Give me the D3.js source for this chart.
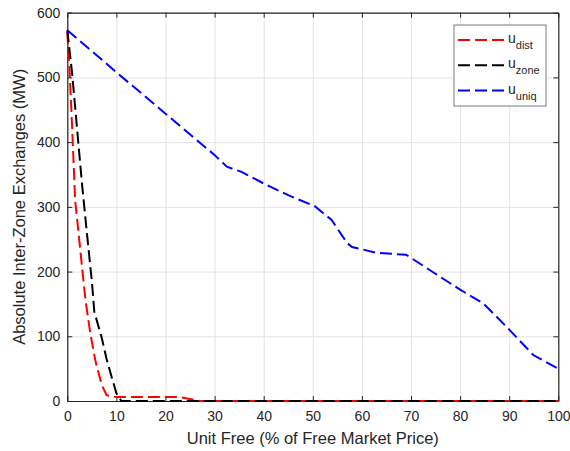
<!DOCTYPE html>
<html>
<head>
<meta charset="utf-8">
<script src="https://cdn.jsdelivr.net/npm/d3@7"></script>
<style>
  body { margin: 0; background: #fff; }
  svg { font-family: "Liberation Sans", Arial, sans-serif; }
  .grid line { stroke: #e3e3e3; stroke-width: 1; }
  .grid path { display: none; }
  .axis text { fill: #262626; font-size: 14px; }
  .axis line, .axis path { stroke: #262626; }
</style>
</head>
<body>
<div id="chart"></div>
<script>
// Values
const xTicks = [0, 10, 20, 30, 40, 50, 60, 70, 80, 90, 100];
const yTicks = [0, 100, 200, 300, 400, 500, 600];

const distX = [0, 0.5, 1, 1.6, 2.3, 3, 3.7, 4.7, 5.7, 7, 8, 10, 23, 27, 100];
const distY = [570, 505, 420, 310, 259, 207, 156, 104, 63, 25, 9, 6, 6, 0, 0];

const zoneX = [0, 1, 2, 3, 4, 5, 5.5, 7, 8, 9, 10, 11, 100];
const zoneY = [573, 505, 420, 335, 259, 185, 138, 98, 65, 38, 12, 0, 0];

const uniqX = [0, 10, 20, 30, 32.5, 35.5, 40, 45, 50.4, 53.8, 57, 58, 63, 69, 80, 84.7, 89.8, 94.9, 100];
const uniqY = [573, 508, 444, 380, 362, 354, 336, 318, 301, 280, 244, 238, 229, 226, 172, 151, 112, 71, 50];

const seriesNames = ["dist", "zone", "uniq"];
const seriesColors = ["#ff0000", "#000000", "#0000ff"];

// Set up chart dimensions
const W = 570, H = 451;
const margin = { top: 12.7, right: 11.7, bottom: 50, left: 67.3 };
const width = W - margin.left - margin.right;
const height = 401 - margin.top;

const svg = d3
  .select("#chart")
  .append("svg")
  .attr("width", W)
  .attr("height", H);

const g = svg.append("g").attr("transform", `translate(${margin.left},${margin.top})`);

const x = d3.scaleLinear().domain([0, 100]).range([0, width]);
const y = d3.scaleLinear().domain([0, 600]).range([height, 0]);

// Grid lines
g.append("g")
  .attr("class", "grid")
  .attr("transform", `translate(0,${height})`)
  .call(d3.axisBottom(x).tickValues(xTicks).tickSize(-height).tickFormat(""));
g.append("g")
  .attr("class", "grid")
  .call(d3.axisLeft(y).tickValues(yTicks).tickSize(-width).tickFormat(""));

// Axes (ticks point inward, box on)
g.append("g")
  .attr("class", "axis")
  .attr("transform", `translate(0,${height})`)
  .call(d3.axisBottom(x).tickValues(xTicks).tickSizeInner(-5).tickSizeOuter(0).tickPadding(10));
g.append("g")
  .attr("class", "axis")
  .call(d3.axisLeft(y).tickValues(yTicks).tickSizeInner(-5).tickSizeOuter(0).tickPadding(7));
g.append("g")
  .attr("class", "axis")
  .call(d3.axisTop(x).tickValues(xTicks).tickSizeInner(-5).tickSizeOuter(0).tickFormat(""));
g.append("g")
  .attr("class", "axis")
  .attr("transform", `translate(${width},0)`)
  .call(d3.axisRight(y).tickValues(yTicks).tickSizeInner(-5).tickSizeOuter(0).tickFormat(""));

g.selectAll(".axis path").attr("stroke-width", 1.2);

// Data lines
const line = d3.line().x((d) => x(d[0])).y((d) => y(d[1]));
const allSeries = [
  d3.zip(distX, distY),
  d3.zip(zoneX, zoneY),
  d3.zip(uniqX, uniqY)
];

g.selectAll(".series")
  .data(allSeries)
  .enter()
  .append("path")
  .attr("class", "series")
  .attr("d", line)
  .attr("fill", "none")
  .attr("stroke", (d, i) => seriesColors[i])
  .attr("stroke-width", 2)
  .attr("stroke-dasharray", "12,5");

// Axis labels
svg.append("text")
  .attr("x", margin.left + width / 2)
  .attr("y", 444)
  .attr("text-anchor", "middle")
  .attr("fill", "#262626")
  .style("font-size", "16.5px")
  .text("Unit Free (% of Free Market Price)");

svg.append("text")
  .attr("transform", `translate(25,${margin.top + height / 2}) rotate(-90)`)
  .attr("text-anchor", "middle")
  .attr("fill", "#262626")
  .style("font-size", "16.5px")
  .text("Absolute Inter-Zone Exchanges (MW)");

// Legend
const legend = svg.append("g").attr("transform", "translate(454,25)");
legend.append("rect")
  .attr("width", 92)
  .attr("height", 81)
  .attr("fill", "#fff")
  .attr("stroke", "#7a7a7a")
  .attr("stroke-width", 1);

const items = legend.selectAll(".item")
  .data(seriesNames)
  .enter()
  .append("g")
  .attr("transform", (d, i) => `translate(0,${15 + i * 25.3})`);

items.append("line")
  .attr("x1", 4)
  .attr("x2", 50)
  .attr("stroke", (d, i) => seriesColors[i])
  .attr("stroke-width", 2)
  .attr("stroke-dasharray", "12,5");

const txt = items.append("text")
  .attr("x", 54)
  .attr("y", 3)
  .attr("fill", "#262626")
  .style("font-size", "14px");
txt.append("tspan").text("u");
txt.append("tspan")
  .attr("dy", 6)
  .style("font-size", "11px")
  .text((d) => d);
</script>
</body>
</html>
